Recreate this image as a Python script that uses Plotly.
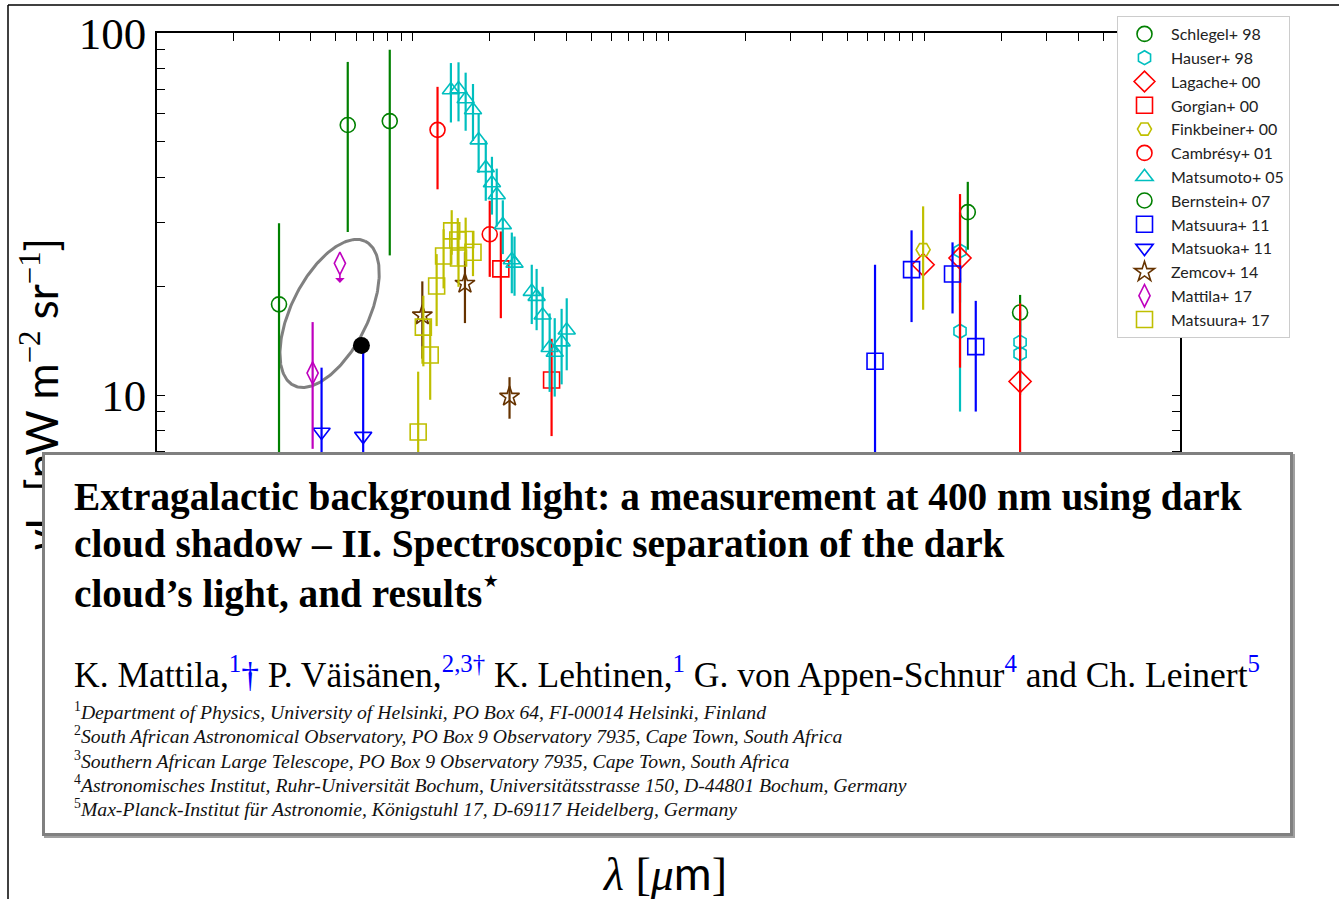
import numpy as np
import plotly.graph_objects as go

# ---------------- measurements -----------------
# wavelength [um], nuI_nu [nW m^-2 sr^-1], 1-sigma errors

schlegel_wl = [148.0, 237.0]
schlegel_val = [32.0, 16.9]
schlegel_err = [6.8, 2.0]

hauser_wl = [138.0, 138.0, 237.0, 237.0]
hauser_val = [25.0, 15.0, 14.0, 13.0]
hauser_err = [7.0, 6.0, 3.0, 3.0]

lagache_wl = [99.0, 138.0, 237.0]
lagache_val = [22.9, 23.9, 10.9]
lagache_err = [0.0, 12.0, 7.0]

gorgian_wl = [2.21, 3.49]
gorgian_val = [22.3, 11.0]
gorgian_err = [6.0, 3.3]

finkbeiner_wl = [99.0]
finkbeiner_val = [25.2]
finkbeiner_err = [8.0]

cambresy_wl = [1.25, 2.0]
cambresy_val = [54.0, 27.8]
cambresy_err = [17.0, 6.6]

matsumoto_wl = [1.41, 1.51, 1.61, 1.72, 1.81, 1.93, 2.04, 2.13, 2.25, 2.44,
                2.50, 2.92, 3.05, 3.22, 3.43, 3.59, 3.82, 4.00]
matsumoto_val = [69.6, 70.0, 65.7, 61.3, 50.6, 42.4, 38.5, 35.7, 29.5, 23.6,
                 23.1, 19.3, 18.7, 16.6, 13.5, 13.1, 14.0, 15.1]
matsumoto_err = [13, 13, 12, 11, 9.5, 8, 7, 6.5, 5, 4.5,
                 4.3, 3.6, 3.6, 3.3, 3.3, 3.2, 3.3, 3.4]

bernstein_wl = [0.30, 0.557, 0.813]
bernstein_val = [17.8, 55.7, 57.1]
bernstein_err = [12.0, 27.5, 32.8]

matsuura11_wl = [64.2, 89.2, 129.0, 159.0]
matsuura11_val = [12.4, 22.2, 21.6, 13.6]
matsuura11_err = [10.5, 6.3, 4.8, 4.6]

matsuoka_wl = [0.44, 0.64]
matsuoka_val = [7.9, 7.7]
matsuoka_err = [4.0, 5.8]

zemcov_wl = [1.09, 1.60, 2.39]
zemcov_val = [16.6, 20.3, 9.9]
zemcov_err = [4.0, 4.5, 1.3]

mattila_wl = [0.406, 0.519]
mattila_val = [11.5, 23.1]
mattila_err = [4.4, 0.0]
mattila_limit_tip = 20.4          # arrow tip of the 0.52 um upper limit

matsuura17_wl = [1.05, 1.10, 1.17, 1.24, 1.32, 1.42, 1.50, 1.51, 1.61, 1.72]
matsuura17_val = [7.9, 15.4, 12.9, 20.0, 24.2, 28.4, 26.8, 23.9, 26.9, 24.8]
matsuura17_err = [3.7, 3.4, 3.2, 4.5, 4.5, 4.0, 4.0, 4.0, 4.0, 3.5]

highlight_wl = [0.63]
highlight_val = [13.7]

# confidence ellipse: centre and semi-axis vectors in decades (log10 lambda, log10 nuI_nu)
ellipse_centre = (0.473, 16.8)
ellipse_axis_a = (0.1403, 0.199)
ellipse_axis_b = (-0.1342, 0.0473)

# axis ticks
x_decades = [0.1, 1, 10, 100, 1000]
y_decades = [1, 10, 100]
y_tick_labels = ["", "10", "100"]

GREEN, CYAN, RED, YELLOW = "#008000", "#00bfbf", "#ff0000", "#bfbf00"
BLUE, MAGENTA, BROWN = "#0000ff", "#bf00bf", "#663300"

series = [
    ("Schlegel+ 98", schlegel_wl, schlegel_val, schlegel_err, GREEN, "circle-open", 15),
    ("Hauser+ 98", hauser_wl, hauser_val, hauser_err, CYAN, "hexagon-open", 14),
    ("Lagache+ 00", lagache_wl, lagache_val, lagache_err, RED, "diamond-open", 17),
    ("Gorgian+ 00", gorgian_wl, gorgian_val, gorgian_err, RED, "square-open", 16),
    ("Finkbeiner+ 00", finkbeiner_wl, finkbeiner_val, finkbeiner_err, YELLOW, "hexagon2-open", 14),
    ("Cambrésy+ 01", cambresy_wl, cambresy_val, cambresy_err, RED, "circle-open", 15),
    ("Matsumoto+ 05", matsumoto_wl, matsumoto_val, matsumoto_err, CYAN, "triangle-up-open", 15),
    ("Bernstein+ 07", bernstein_wl, bernstein_val, bernstein_err, GREEN, "circle-open", 15),
    ("Matsuura+ 11", matsuura11_wl, matsuura11_val, matsuura11_err, BLUE, "square-open", 16),
    ("Matsuoka+ 11", matsuoka_wl, matsuoka_val, matsuoka_err, BLUE, "triangle-down-open", 15),
    ("Zemcov+ 14", zemcov_wl, zemcov_val, zemcov_err, BROWN, "star-open", 15),
    ("Mattila+ 17", mattila_wl, mattila_val, mattila_err, MAGENTA, "diamond-tall-open", 16),
    ("Matsuura+ 17", matsuura17_wl, matsuura17_val, matsuura17_err, YELLOW, "square-open", 16),
]

fig = go.Figure()

# ellipse outline drawn first so the points sit on top of it
t = np.linspace(0, 2 * np.pi, 240)
lx = np.log10(ellipse_centre[0]) + ellipse_axis_a[0] * np.cos(t) + ellipse_axis_b[0] * np.sin(t)
ly = np.log10(ellipse_centre[1]) + ellipse_axis_a[1] * np.cos(t) + ellipse_axis_b[1] * np.sin(t)
fig.add_trace(go.Scatter(x=10 ** lx, y=10 ** ly, mode="lines",
                         line=dict(color="#808080", width=3),
                         showlegend=False, hoverinfo="skip"))

for name, wl, val, err, col, sym, size in series:
    fig.add_trace(go.Scatter(
        x=wl, y=val, mode="markers", name=name,
        marker=dict(symbol=sym, size=size, color=col, line=dict(width=1.6)),
        error_y=dict(type="data", array=err, color=col, thickness=2.2, width=0),
    ))

fig.add_trace(go.Scatter(x=highlight_wl, y=highlight_val, mode="markers",
                         marker=dict(symbol="circle", size=17, color="black"),
                         showlegend=False))

# plot area geometry (pixels)
L, T, W, H = 157, 33, 1023, 724
FIG_W, FIG_H = 1339, 899


def px(xp):
    return (xp - L) / W


def py(yp):
    return (T + H - yp) / H


def minor_values(decades):
    return [k * d for d in decades[:-1] for k in range(2, 10)]


axis_common = dict(showline=True, linecolor="black", linewidth=1.5, mirror="ticks",
                   ticks="inside", ticklen=8, tickwidth=1.2, tickcolor="black",
                   showgrid=False, zeroline=False,
                   tickfont=dict(family="Liberation Serif", size=45, color="black"))

fig.update_xaxes(type="log", range=[-1, 3], tickvals=x_decades, showticklabels=False,
                 minor=dict(tickvals=minor_values(x_decades), ticks="inside", ticklen=8,
                            tickwidth=1.2, tickcolor="black", showgrid=False),
                 **axis_common)
fig.update_yaxes(type="log", range=[0, 2], tickvals=y_decades, ticktext=y_tick_labels,
                 ticklabelstandoff=0,
                 minor=dict(tickvals=minor_values(y_decades), ticks="inside", ticklen=8,
                            tickwidth=1.2, tickcolor="black", showgrid=False),
                 **axis_common)

SERIF = "Liberation Serif"
annotations = []

# y-axis label
annotations.append(dict(
    xref="paper", yref="paper", x=px(44), y=py(395), textangle=-90,
    showarrow=False, xanchor="center", yanchor="middle",
    text="<i>ν</i>I<sub><i>ν</i></sub> [nW m<sup><span style='font-family:Liberation Serif'>−2</span></sup>"
         " sr<sup><span style='font-family:Liberation Serif'>−1</span></sup>]",
    font=dict(family="Lato", size=44, color="black")))

# article header panel
BOX_L, BOX_T, BOX_R, BOX_B = 42, 452, 1293, 836
annotations.append(dict(
    xref="paper", yref="paper", x=px(BOX_L + 2), y=py(BOX_T + 2), xanchor="left", yanchor="top",
    text=" ", showarrow=False, width=BOX_R - BOX_L, height=BOX_B - BOX_T,
    bgcolor="#a0a0a0", borderpad=0, borderwidth=0))
annotations.append(dict(
    xref="paper", yref="paper", x=px(BOX_L), y=py(BOX_T), xanchor="left", yanchor="top",
    text=" ", showarrow=False, width=BOX_R - BOX_L - 6, height=BOX_B - BOX_T - 6,
    bgcolor="white", bordercolor="#808080", borderwidth=3, borderpad=0))

TEXT_X = 72
title_lines = [
    "Extragalactic background light: a measurement at 400 nm using dark",
    "cloud shadow – II. Spectroscopic separation of the dark",
    "cloud’s light, and results<sup>⋆</sup>",
]
for line, yc in zip(title_lines, [497, 544, 590]):
    annotations.append(dict(xref="paper", yref="paper", x=px(TEXT_X), y=py(yc),
                            xanchor="left", yanchor="middle", showarrow=False,
                            text="<b>" + line + "</b>",
                            font=dict(family=SERIF, size=39.3, color="black")))

blue = "<span style='color:#0000ff'>{}</span>"
authors = ("K. Mattila," + blue.format("<sup>1</sup>†") + " P. Väisänen," + blue.format("<sup>2,3†</sup>")
           + " K. Lehtinen," + blue.format("<sup>1</sup>") + " G. von Appen-Schnur" + blue.format("<sup>4</sup>")
           + " and Ch. Leinert" + blue.format("<sup>5</sup>"))
annotations.append(dict(xref="paper", yref="paper", x=px(TEXT_X), y=py(672),
                        xanchor="left", yanchor="middle", showarrow=False, text=authors,
                        font=dict(family=SERIF, size=35.5, color="black")))

affiliations = [
    "Department of Physics, University of Helsinki, PO Box 64, FI-00014 Helsinki, Finland",
    "South African Astronomical Observatory, PO Box 9 Observatory 7935, Cape Town, South Africa",
    "Southern African Large Telescope, PO Box 9 Observatory 7935, Cape Town, South Africa",
    "Astronomisches Institut, Ruhr-Universität Bochum, Universitätsstrasse 150, D-44801 Bochum, Germany",
    "Max-Planck-Institut für Astronomie, Königstuhl 17, D-69117 Heidelberg, Germany",
]
for i, (aff, yc) in enumerate(zip(affiliations, [711, 735, 759.5, 784, 808])):
    annotations.append(dict(xref="paper", yref="paper", x=px(TEXT_X), y=py(yc),
                            xanchor="left", yanchor="middle", showarrow=False,
                            text="<sup>%d</sup><i>%s</i>" % (i + 1, aff),
                            font=dict(family=SERIF, size=19.7, color="#111111")))

# x-axis label
annotations.append(dict(
    xref="paper", yref="paper", x=px(664), y=py(872), xanchor="center", yanchor="middle",
    showarrow=False,
    text="<i>λ</i> [<i>μ</i><span style='font-family:Lato'>m</span>]",
    font=dict(family=SERIF, size=46, color="black")))

# upper-limit arrow on the 0.52 um point
annotations.append(dict(
    x=np.log10(mattila_wl[1]), y=np.log10(mattila_limit_tip), xref="x", yref="y",
    ax=0, ay=-10, showarrow=True, arrowhead=1, arrowsize=1, arrowwidth=1.6,
    arrowcolor=MAGENTA, text=""))

shapes = [
    dict(type="line", xref="paper", yref="paper", x0=px(8), x1=px(8), y0=py(5), y1=py(FIG_H + 5),
         line=dict(color="black", width=1.5)),
    dict(type="line", xref="paper", yref="paper", x0=px(8), x1=px(FIG_W + 5), y0=py(5), y1=py(5),
         line=dict(color="black", width=1.5)),
]

fig.update_layout(
    width=FIG_W, height=FIG_H,
    margin=dict(l=L, r=FIG_W - L - W, t=T, b=FIG_H - T - H, autoexpand=False),
    paper_bgcolor="white", plot_bgcolor="white",
    annotations=annotations, shapes=shapes,
    legend=dict(x=px(1117), y=py(16), xanchor="left", yanchor="top",
                bgcolor="white", bordercolor="#cccccc", borderwidth=1,
                font=dict(family="Lato", size=16, color="#222222"),
                itemwidth=43, tracegroupgap=0),
)

fig.write_html("out.html")
